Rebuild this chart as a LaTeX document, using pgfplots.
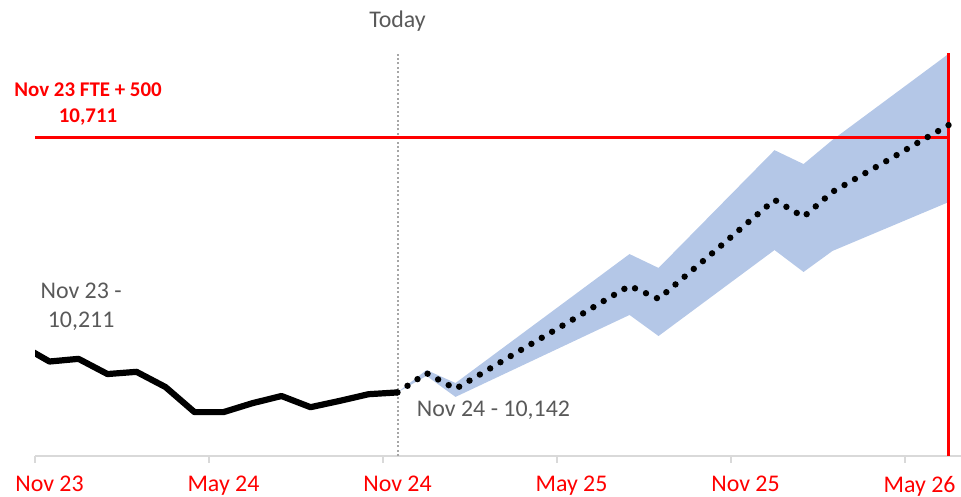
\documentclass[border=0pt]{standalone}
\usepackage{fontspec}
\setmainfont{Carlito}
\usepackage{pgfplots}
\pgfplotsset{compat=1.18}
\definecolor{bandblue}{HTML}{B4C7E7}
\definecolor{txtgray}{HTML}{595959}
\definecolor{axgray}{HTML}{D9D9D9}
\definecolor{todaygray}{HTML}{A6A6A6}
\begin{document}
\begin{tikzpicture}
\begin{axis}[
  at={(0,0)}, anchor=south west,
  scale only axis, width=463bp, height=201.5bp,
  xmin=-0.5, xmax=31.43, ymin=10000, ymax=10900,
  axis y line=none, axis x line*=bottom,
  x axis line style={draw=axgray, line width=0.8bp, -},
  xtick={-0.5,5.5,11.5,17.5,23.5,29.5},
  xticklabels={Nov 23,May 24,Nov 24,May 25,Nov 25,May 26},
  tick align=outside, major tick length=3.5bp,
  xtick style={draw=axgray, line width=0.8bp},
  xticklabel style={text=red, font=\fontsize{12}{14}\selectfont, xshift=7.25bp, yshift=-3bp},
  ytick=\empty,
  clip mode=individual,
]
% forecast range
\addplot[fill=bandblue, draw=none] coordinates {
  (12,10142)(13,10192)(14,10163)(20,10451)(21,10420)(25,10683)(26,10652)(27,10706)(31,10898)
  (31,10567)(27,10458)(26,10411)(25,10460)(21,10268)(20,10315)(14,10132)(13,10179)(12,10142)
} -- cycle;
% today marker
\addplot[todaygray, line width=1bp, dash pattern=on 1bp off 1.2bp] coordinates {(12,10000)(12,10900)};
% target
\addplot[red, line width=1.25bp] coordinates {(-0.5,10711)(31,10711)};
\addplot[red, line width=1.25bp] coordinates {(31,10000)(31,10900)};
% actuals
\addplot[black, line width=3.1bp, line join=round] coordinates {
  (-1,10248)(0,10211)(1,10217)(2,10183)(3,10188)(4,10154)(5,10098)(6,10098)
  (7,10118)(8,10134)(9,10109)(10,10123)(11,10138)(12,10142)
};
% forecast
\addplot[black, line width=3.2bp, line cap=round, dash pattern=on 0pt off 6bp] coordinates {
  (12,10142)(13,10185)(14,10150)(15,10188)(16,10227)(17,10265)(18,10303)(19,10342)(20,10380)
  (21,10351)(22,10406)(23,10461)(24,10517)(25,10572)(26,10534)(27,10590)
  (28,10627)(29,10664)(30,10702)(31,10739)
};
\node[text=red, font=\bfseries\fontsize{10.5}{13.5}\selectfont, align=center] at (axis cs:1.33,10786) {Nov 23 FTE + 500\\10,711};
\node[text=txtgray, font=\fontsize{12}{14.5}\selectfont, align=center] at (axis cs:1.09,10334) {Nov 23 -\\10,211};
\node[text=txtgray, font=\fontsize{12}{14}\selectfont] at (axis cs:15.31,10103) {Nov 24 - 10,142};
\node[text=txtgray, font=\fontsize{12}{14}\selectfont] at (axis cs:12,10971) {Today};
\end{axis}
\pgfresetboundingbox
\path (-17.5bp,-20.5bp) rectangle (463bp,228bp);
\end{tikzpicture}
\end{document}
